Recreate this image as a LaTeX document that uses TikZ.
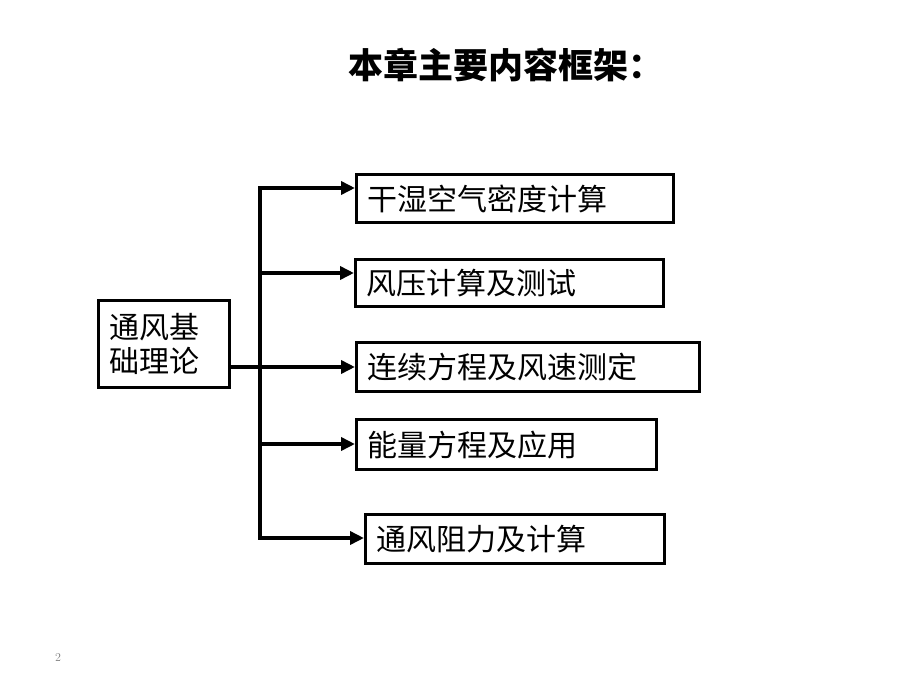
\documentclass[tikz,border=0pt]{standalone}
\usepackage{fontspec}
\newfontfamily\cjk{Noto Sans CJK SC}
\usetikzlibrary{arrows.meta}
\begin{document}
\begin{tikzpicture}[x=1pt,y=-1pt,
  box/.style={draw=black, line width=3.4pt, anchor=north west, inner xsep=11pt, inner ysep=0pt,
    align=left, font=\cjk\fontsize{30}{34}\selectfont},
  arr/.style={line width=3.6pt, -{Triangle[length=14pt,width=13pt]}},
  conn/.style={line width=3.6pt},
  titlefont/.style={font=\cjk\bfseries\fontsize{35}{40}\selectfont},
  pagefont/.style={font=\fontsize{12}{14}\selectfont, text=gray}]
\useasboundingbox (0,0) rectangle (920,690);
\fill[white] (0,0) rectangle (920,690);

\node[titlefont, anchor=west, inner sep=0pt] (title) at (348,65) {本章主要内容框架：};

\node[box, text width=109pt, minimum height=87pt] (L) at (97,299) {通风基\\础理论};

\node[box, text width=295pt, minimum height=48pt] (B1) at (355,173) {干湿空气密度计算};
\node[box, line width=2.6pt, text width=286pt, minimum height=47pt] (B2) at (354,258) {风压计算及测试};
\node[box, text width=321pt, minimum height=49pt] (B3) at (355,341) {连续方程及风速测定};
\node[box, text width=278pt, minimum height=50pt] (B4) at (355,418) {能量方程及应用};
\node[box, text width=277pt, minimum height=49pt] (B5) at (364,513) {通风阻力及计算};

\node[pagefont] (page) at (58,658) {2};

\coordinate (spine) at (260,0);
\coordinate (y1) at (0,188);
\coordinate (y2) at (0,273);
\coordinate (y3) at (0,367);
\coordinate (y4) at (0,444);
\coordinate (y5) at (0,538);

\draw[conn, line cap=rect] (spine |- y1) -- (spine |- y5);
\draw[arr] (L.east |- y3) -- (B3.west |- y3);
\draw[arr] (spine |- y1) -- (B1.west |- y1);
\draw[arr] (spine |- y2) -- (B2.west |- y2);
\draw[arr] (spine |- y4) -- (B4.west |- y4);
\draw[arr] (spine |- y5) -- (B5.west |- y5);
\end{tikzpicture}
\end{document}
